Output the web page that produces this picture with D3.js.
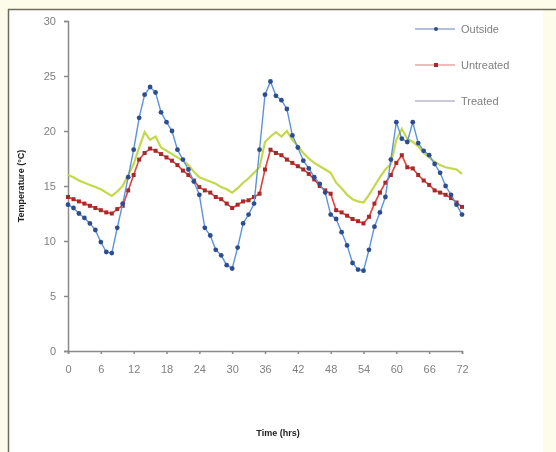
<!DOCTYPE html>
<html><head><meta charset="utf-8">
<script src="https://cdn.jsdelivr.net/npm/d3@7"></script>
<style>body{margin:0;background:#fdfcea;}svg{display:block;}</style>
</head><body>
<script>
const hours = d3.range(0, 73);
const outside = [13.3,13.0,12.5,12.1,11.6,11.0,9.9,9.0,8.9,11.2,13.4,15.8,18.3,21.2,23.3,24.0,23.5,21.7,20.8,20.0,18.3,17.4,16.5,15.4,14.2,11.2,10.5,9.2,8.7,7.8,7.5,9.4,11.6,12.4,13.4,18.3,23.3,24.5,23.2,22.8,22.0,19.6,18.5,17.3,16.6,15.8,15.2,14.4,12.4,12.0,10.8,9.6,8.0,7.4,7.3,9.2,11.3,12.6,14.0,17.4,20.8,19.3,19.0,20.8,18.9,18.2,17.8,17.0,16.2,15.0,14.2,13.3,12.4];
const untreated = [14.0,13.8,13.6,13.4,13.2,13.0,12.8,12.6,12.5,12.9,13.2,14.6,16.0,17.4,18.0,18.4,18.2,17.9,17.6,17.3,16.9,16.4,16.0,15.5,14.9,14.6,14.4,14.0,13.8,13.4,13.0,13.3,13.6,13.7,14.0,14.3,16.5,18.3,18.0,17.8,17.4,17.1,16.8,16.5,16.1,15.6,15.0,14.6,14.3,12.8,12.6,12.3,12.0,11.8,11.6,12.2,13.4,14.4,15.3,16.0,17.1,17.8,16.7,16.6,16.0,15.5,15.1,14.6,14.4,14.2,13.9,13.5,13.1];
const treated = [16.0,15.8,15.5,15.3,15.1,14.9,14.7,14.4,14.1,14.5,15.0,16.0,17.0,18.5,19.9,19.2,19.5,18.5,18.2,17.9,17.6,17.3,16.9,16.3,15.8,15.6,15.4,15.2,14.9,14.7,14.4,14.8,15.3,15.7,16.2,16.7,19.0,19.5,19.9,19.5,20.0,19.2,18.6,18.0,17.5,17.1,16.8,16.5,16.2,15.3,14.8,14.2,13.8,13.6,13.5,14.2,15.0,15.8,16.5,17.0,19.2,20.2,19.3,19.0,18.6,18.0,17.6,17.2,16.9,16.7,16.6,16.5,16.1];
const xTicks = [0,6,12,18,24,30,36,42,48,54,60,66,72];
const yTicks = [0,5,10,15,20,25,30];
const seriesNames = ["Outside","Untreated","Treated"];

const W = 556, H = 452;
const svg = d3.select("body").append("svg").attr("width", W).attr("height", H);
const defs = svg.append("defs");
defs.append("filter").attr("id","blur").append("feGaussianBlur").attr("stdDeviation",0.45);

svg.append("rect").attr("x",0).attr("y",0).attr("width",W).attr("height",H).attr("fill","#fdfcea");
svg.append("rect").attr("x",9).attr("y",10).attr("width",534).attr("height",H-10).attr("fill","#ffffff");
svg.append("line").attr("x1",8).attr("x2",W).attr("y1",9.5).attr("y2",9.5).attr("stroke","#6e6c5c").attr("stroke-width",1.5);
svg.append("line").attr("x1",8.5).attr("x2",8.5).attr("y1",9).attr("y2",H).attr("stroke","#6e6c5c").attr("stroke-width",1.5);

const g = svg.append("g").attr("filter","url(#blur)");
const x = d3.scaleLinear().domain([0,72]).range([68,462]);
const y = d3.scaleLinear().domain([0,30]).range([351,21]);

const xAxis = g.append("g").attr("transform","translate(0,351)")
  .call(d3.axisBottom(x).tickValues(xTicks).tickSize(3).tickPadding(11));
const yAxis = g.append("g").attr("transform","translate(68,0)")
  .call(d3.axisLeft(y).tickValues(yTicks).tickSize(4).tickPadding(8));
[xAxis,yAxis].forEach(a=>{
  a.selectAll("path,line").attr("stroke","#8a8a8a").attr("stroke-width",1.5);
  a.selectAll("text").attr("fill","#808080").attr("font-family","Liberation Sans, Arial, sans-serif").attr("font-size",11);
});

g.append("text").attr("x",278).attr("y",436).attr("text-anchor","middle")
  .attr("font-family","Liberation Sans, Arial, sans-serif").attr("font-size",9).attr("font-weight","bold").attr("fill","#222")
  .text("Time (hrs)");
g.append("text").attr("transform","translate(24,186) rotate(-90)").attr("text-anchor","middle")
  .attr("font-family","Liberation Sans, Arial, sans-serif").attr("font-size",9).attr("font-weight","bold").attr("fill","#222")
  .text("Temperature (°C)");

const line = d3.line().x((d,i)=>x(hours[i])).y(d=>y(d));

g.append("path").datum(treated).attr("d",line).attr("fill","none").attr("stroke","#c5d84a").attr("stroke-width",2.2);
g.append("path").datum(untreated).attr("d",line).attr("fill","none").attr("stroke","#e0423a").attr("stroke-width",1.6);
g.selectAll(".um").data(untreated).enter().append("rect")
  .attr("x",(d,i)=>x(hours[i])-2).attr("y",d=>y(d)-2).attr("width",4).attr("height",4).attr("fill","#a52a2a");
g.append("path").datum(outside).attr("d",line).attr("fill","none").attr("stroke","#5b93dd").attr("stroke-width",1.4);
g.selectAll(".om").data(outside).enter().append("circle")
  .attr("cx",(d,i)=>x(hours[i])).attr("cy",d=>y(d)).attr("r",2.4).attr("fill","#2e4d8f");

// legend
const lg = g.append("g");
const legY = [29,65,101];
const legLine = ["#6b82b8","#e07a7a","#9a8fb8"];
seriesNames.forEach((n,i)=>{
  lg.append("line").attr("x1",415).attr("x2",455).attr("y1",legY[i]).attr("y2",legY[i]).attr("stroke",legLine[i]).attr("stroke-width",1.2);
  if(i===0) lg.append("circle").attr("cx",436).attr("cy",legY[i]).attr("r",2).attr("fill","#2e4d8f");
  if(i===1) lg.append("rect").attr("x",434).attr("y",legY[i]-2).attr("width",4).attr("height",4).attr("fill","#a52a2a");
  lg.append("text").attr("x",461).attr("y",legY[i]+4).attr("font-family","Liberation Sans, Arial, sans-serif")
    .attr("font-size",11).attr("fill","#808080").text(n);
});
</script>
</body></html>
